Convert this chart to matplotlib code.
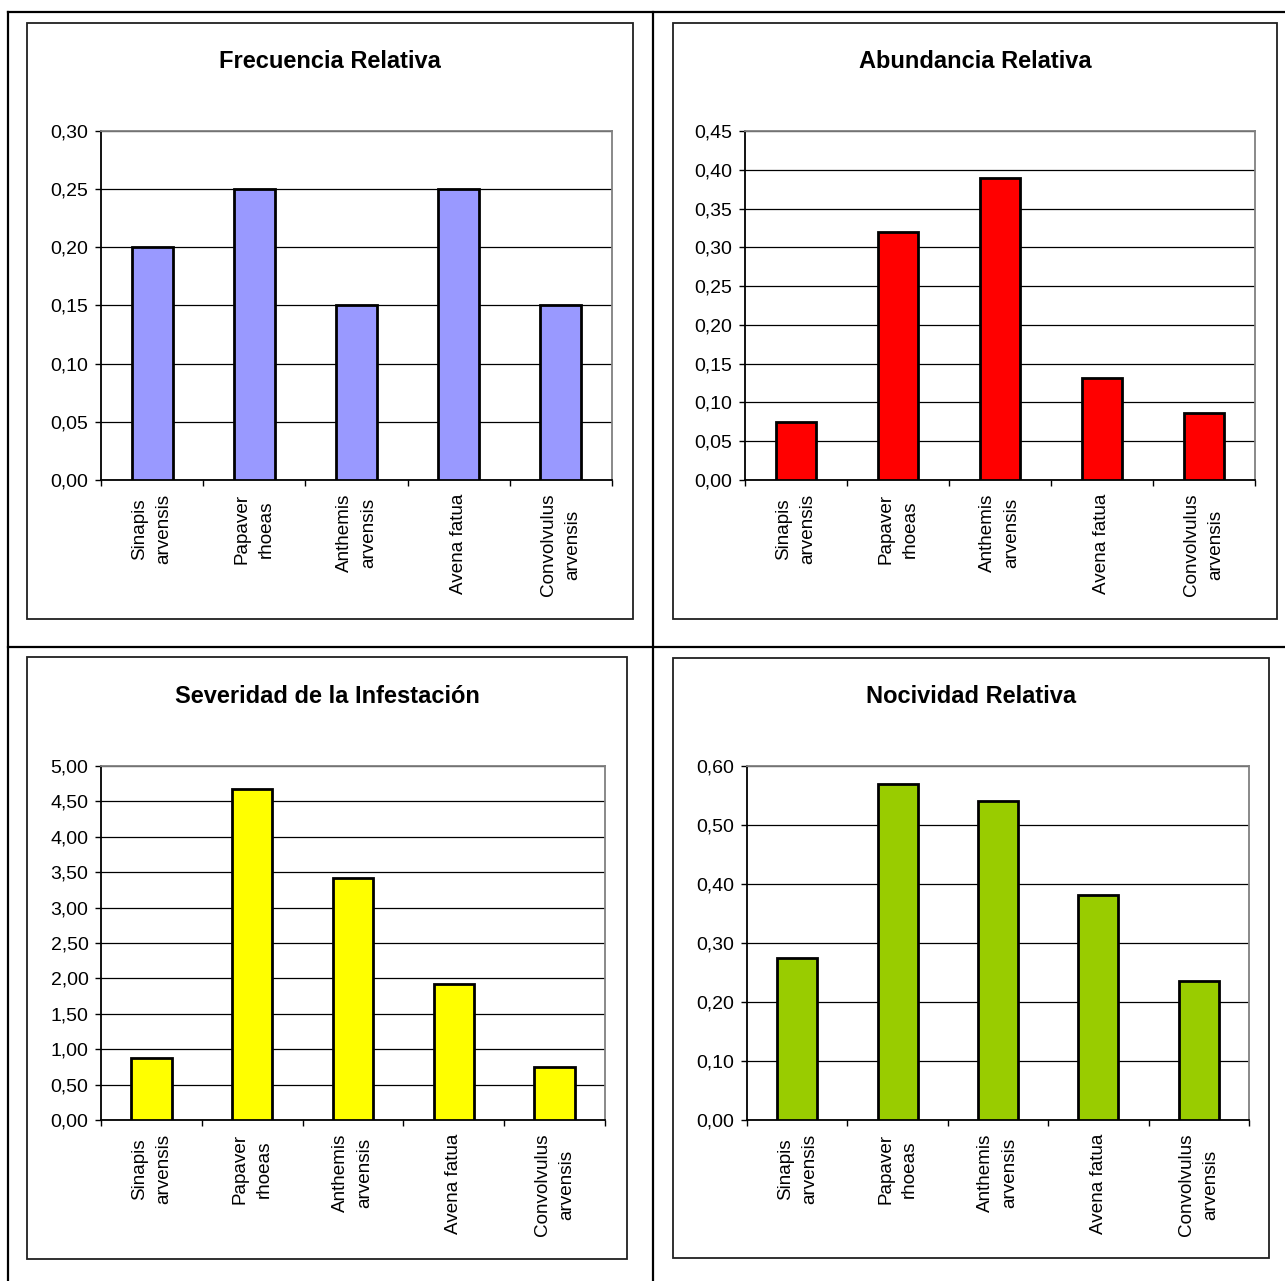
import matplotlib
matplotlib.use("Agg")
import matplotlib.pyplot as plt
from matplotlib.patches import Rectangle
from matplotlib.lines import Line2D
from matplotlib.ticker import FixedLocator, FuncFormatter

plt.rcParams['font.family'] = ['Liberation Sans', 'DejaVu Sans']

species = ["Sinapis\narvensis", "Papaver\nrhoeas", "Anthemis\narvensis",
           "Avena fatua", "Convolvulus\narvensis"]

frecuencia = [0.20, 0.25, 0.15, 0.25, 0.15]
abundancia = [0.075, 0.32, 0.39, 0.131, 0.086]
severidad = [0.87, 4.68, 3.42, 1.92, 0.75]
nocividad = [0.275, 0.57, 0.54, 0.381, 0.236]

W, H = 1285, 1281
fig = plt.figure(figsize=(W / 100, H / 100), dpi=100)
fig.patch.set_facecolor("white")


def fig_rect(l, t, r, b):
    return [l / W, 1 - b / H, (r - l) / W, (b - t) / H]


# Table rules around the four cells
for (x0, y0, x1, y1) in [(8, 12, W, 12), (8, 647, W, 647),
                         (8, 12, 8, H), (653, 12, 653, H)]:
    fig.add_artist(Line2D([x0 / W, x1 / W], [1 - y0 / H, 1 - y1 / H],
                          color="black", lw=1.6, transform=fig.transFigure))

panels = [
    dict(title="Frecuencia Relativa", values=frecuencia, color="#9999FF",
         frame=(27, 23, 633, 619), plot=(101, 131, 612, 480),
         ymax=0.30, step=0.05, title_y=61),
    dict(title="Abundancia Relativa", values=abundancia, color="#FF0000",
         frame=(673, 23, 1277, 619), plot=(745, 131, 1255, 480),
         ymax=0.45, step=0.05, title_y=61),
    dict(title="Severidad de la Infestación", values=severidad, color="#FFFF00",
         frame=(27, 657, 627, 1259), plot=(101, 766, 605, 1120),
         ymax=5.0, step=0.5, title_y=696),
    dict(title="Nocividad Relativa", values=nocividad, color="#99CC00",
         frame=(673, 658, 1269, 1258), plot=(747, 766, 1249, 1120),
         ymax=0.60, step=0.10, title_y=696),
]

for p in panels:
    l, t, r, b = p["frame"]
    fig.add_artist(Rectangle((l / W, 1 - b / H), (r - l) / W, (b - t) / H,
                             transform=fig.transFigure, fill=False,
                             edgecolor="#202020", lw=1.3))
    fig.text((l + r) / 2 / W, 1 - p["title_y"] / H, p["title"],
             ha="center", va="center", fontsize=17, fontweight="bold")

    ax = fig.add_axes(fig_rect(*p["plot"]))
    xs = list(range(len(species)))
    ax.bar(xs, p["values"], width=0.4, color=p["color"],
           edgecolor="black", linewidth=2.0, zorder=3)
    ax.set_xlim(-0.5, len(species) - 0.5)
    ax.set_ylim(0, p["ymax"])

    n = int(round(p["ymax"] / p["step"]))
    yt = [i * p["step"] for i in range(n + 1)]
    ax.yaxis.set_major_locator(FixedLocator(yt))
    ax.yaxis.set_major_formatter(FuncFormatter(
        lambda v, pos: f"{v:.2f}".replace(".", ",")))
    ax.grid(axis="y", color="black", lw=0.9, zorder=1)
    ax.set_axisbelow(True)

    ax.set_xticks(xs)
    ax.set_xticklabels(species, rotation=90, ha="center", va="top",
                       multialignment="center", linespacing=1.55)
    ax.set_xticks([x - 0.5 for x in range(len(species) + 1)], minor=True)
    ax.tick_params(axis="x", which="major", length=0, pad=10, labelsize=13.6)
    ax.tick_params(axis="x", which="minor", length=4, width=1, color="black")
    ax.tick_params(axis="y", length=4, width=1, pad=5, labelsize=14)

    ax.spines["left"].set_color("black")
    ax.spines["bottom"].set_color("black")
    ax.spines["top"].set_color("#808080")
    ax.spines["right"].set_color("#808080")
    for s in ax.spines.values():
        s.set_linewidth(1.3)

fig.savefig("out.png", dpi=100, facecolor="white")
